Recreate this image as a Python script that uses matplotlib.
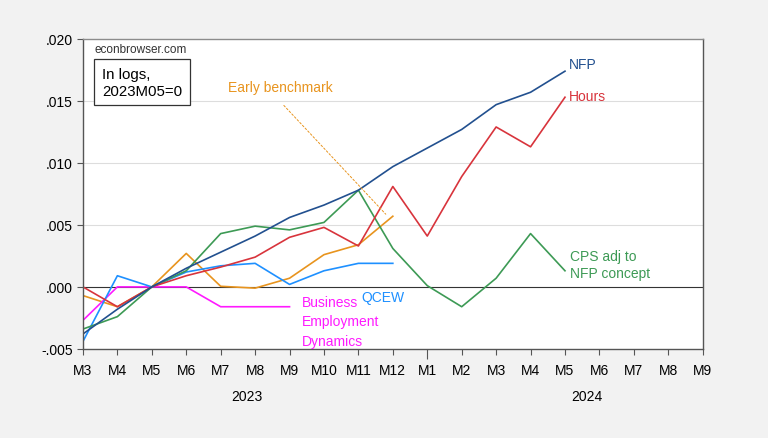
import matplotlib.pyplot as plt

plt.rcParams['font.family'] = ['Liberation Sans', 'DejaVu Sans']

# monthly labels, 2023M03 .. 2024M09
months = ["M3", "M4", "M5", "M6", "M7", "M8", "M9", "M10", "M11", "M12",
          "M1", "M2", "M3", "M4", "M5", "M6", "M7", "M8", "M9"]

# log levels relative to 2023M05
nfp = [-0.0038, -0.0018, 0.0, 0.0015, 0.0028, 0.0041, 0.0056, 0.0066, 0.0078,
       0.0097, 0.0112, 0.0127, 0.0147, 0.0157, 0.0174]
hours = [0.0, -0.0016, 0.0, 0.0009, 0.0016, 0.0024, 0.0040, 0.0048, 0.0033,
         0.0081, 0.0041, 0.0089, 0.0129, 0.0113, 0.0153]
cps = [-0.0034, -0.0024, 0.0, 0.0013, 0.0043, 0.0049, 0.0046, 0.0052, 0.0078,
       0.0031, 0.0001, -0.0016, 0.0007, 0.0043, 0.0013]
qcew = [-0.0044, 0.0009, 0.0, 0.0012, 0.0017, 0.0019, 0.0002, 0.0013, 0.0019,
        0.0019]
early = [-0.0007, -0.0016, 0.0, 0.0027, 0.00005, -0.0001, 0.0007, 0.0026,
         0.0034, 0.0057]
bed = [-0.0027, 0.0, 0.0, 0.0, -0.0016, -0.0016, -0.0016]

c_nfp = "#22508f"
c_hours = "#d8343c"
c_cps = "#3d9a55"
c_qcew = "#1e90ff"
c_early = "#e8941e"
c_bed = "#ff1aff"

fig = plt.figure(figsize=(7.68, 4.39), dpi=100, facecolor="#f2f2f2")
ax = fig.add_axes([0.108, 0.203, 0.807, 0.706])

lw = 1.2
ax.plot(range(len(early)), early, color=c_early, lw=lw)
ax.plot(range(len(bed)), bed, color=c_bed, lw=lw)
ax.plot(range(len(qcew)), qcew, color=c_qcew, lw=lw)
ax.plot(range(len(cps)), cps, color=c_cps, lw=lw)
ax.plot(range(len(hours)), hours, color=c_hours, lw=lw)
ax.plot(range(len(nfp)), nfp, color=c_nfp, lw=lw)

ax.axhline(0, color="#333333", lw=0.8, zorder=1)
for v in [0.005, 0.010, 0.015]:
    ax.axhline(v, color="#dddddd", lw=0.8, zorder=0)

ax.set_xlim(0, len(months) - 1)
ax.set_ylim(-0.005, 0.020)
ax.set_xticks(range(len(months)))
ax.set_xticklabels(months)
ax.set_yticks([-0.005, 0.0, 0.005, 0.010, 0.015, 0.020])
ax.set_yticklabels(["-.005", ".000", ".005", ".010", ".015", ".020"])
ax.tick_params(axis="both", labelsize=10, color="#555555", length=4, width=0.8)
ax.tick_params(axis="x", pad=6, direction="out")
# longer tick at the year break
ax.get_xticklines()[2 * 10].set_markersize(7)
for s in ax.spines.values():
    s.set_color("#555555")
    s.set_linewidth(1.0)
ax.spines["top"].set_color("#8c8c8c")

# year labels under the month ticks
ax.text(4.76, -0.0088, "2023", fontsize=10, ha="center", va="center")
ax.text(14.63, -0.0088, "2024", fontsize=10, ha="center", va="center")

# annotations
ax.text(0.35, 0.0192, "econbrowser.com", fontsize=8.5, color="#333333",
        va="center")
ax.text(0.55, 0.0165, "In logs,\n2023M05=0", fontsize=10.8, va="center",
        linespacing=1.25,
        bbox=dict(boxstyle="square,pad=0.5", fc="white", ec="#333333", lw=0.9))
ax.text(4.2, 0.0161, "Early benchmark", fontsize=10, color=c_early,
        va="center")
ax.annotate("", xy=(8.85, 0.0057), xytext=(5.78, 0.0148),
            arrowprops=dict(arrowstyle="-", color=c_early, lw=0.7,
                            linestyle=(0, (2, 2))))
ax.text(14.1, 0.0180, "NFP", fontsize=10, color=c_nfp, va="center")
ax.text(14.1, 0.0154, "Hours", fontsize=10, color=c_hours, va="center")
ax.text(14.15, 0.0018, "CPS adj to\nNFP concept", fontsize=10, color=c_cps,
        va="center", linespacing=1.3)
ax.text(8.1, -0.0008, "QCEW", fontsize=10, color=c_qcew, va="center")
for i, word in enumerate(["Business", "Employment", "Dynamics"]):
    ax.text(6.35, -0.0012 - 0.00157 * i, word, fontsize=10, color=c_bed,
            va="center")

fig.savefig("out.png", dpi=100, facecolor=fig.get_facecolor())
